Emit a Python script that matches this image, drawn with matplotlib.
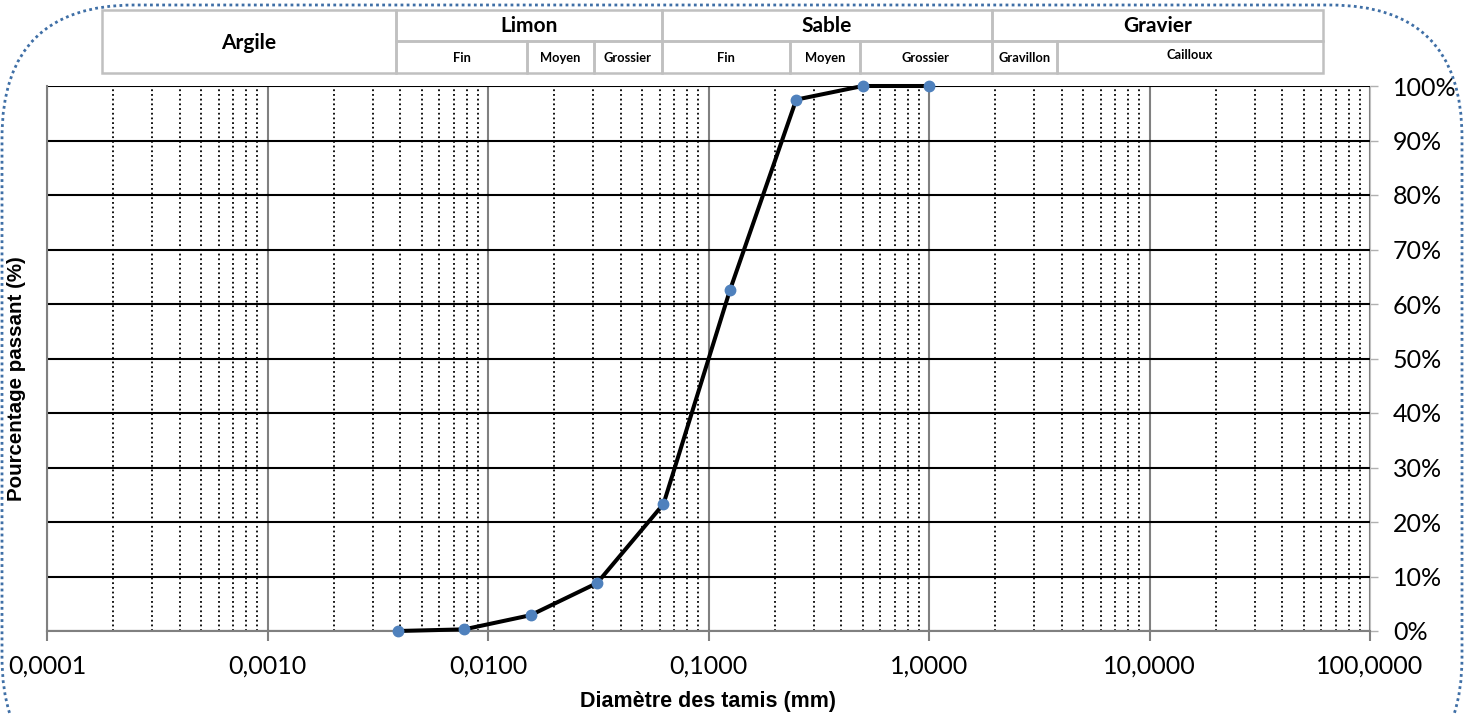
import numpy as np
import matplotlib
matplotlib.use('Agg')
import matplotlib.pyplot as plt
from matplotlib.patches import FancyBboxPatch, Rectangle
from matplotlib.ticker import FixedLocator, LogLocator, NullFormatter

# Sieve diameters (mm) and cumulative percentage passing
diametres = [0.0039, 0.0078, 0.0156, 0.03125, 0.0625, 0.125, 0.25, 0.5, 1.0]
passant = [0.0, 0.3, 2.9, 8.8, 23.3, 62.5, 97.5, 100.0, 100.0]

x_ticks = [0.0001, 0.001, 0.01, 0.1, 1, 10, 100]
x_labels = ['0,0001', '0,0010', '0,0100', '0,1000', '1,0000', '10,0000', '100,0000']
y_ticks = list(range(0, 101, 10))

# classification table: (label, left px, right px)
classes = [('Limon', 396, 662), ('Sable', 662, 992), ('Gravier', 992, 1323)]
sous_classes = [('Fin', 396, 527), ('Moyen', 527, 594), ('Grossier', 594, 662),
                ('Fin', 662, 790), ('Moyen', 790, 860), ('Grossier', 860, 992),
                ('Gravillon', 992, 1057), ('Cailloux', 1057, 1323)]

W, H = 1471, 715
fig = plt.figure(figsize=(W / 100, H / 100), dpi=100)
ax = fig.add_axes([47 / W, 1 - 631 / H, (1370 - 47) / W, (631 - 86) / H])

ax.set_xscale('log')
ax.set_xlim(0.0001, 100)
ax.set_ylim(0, 100)

# grid
ax.xaxis.set_major_locator(FixedLocator(x_ticks))
ax.xaxis.set_minor_locator(LogLocator(base=10, subs=np.arange(2, 10)))
ax.xaxis.set_minor_formatter(NullFormatter())
ax.set_xticklabels(x_labels)
ax.grid(which='major', axis='x', color='#808080', lw=1.5, ls='-')
ax.grid(which='minor', axis='x', color='black', lw=1.3, ls=(0, (1, 1.6)))
ax.set_yticks(y_ticks)
ax.set_yticklabels([f'{v}%' for v in y_ticks])
ax.grid(which='major', axis='y', color='black', lw=1.5)
ax.set_axisbelow(True)

ax.yaxis.tick_right()
ax.tick_params(axis='y', which='major', length=6, color='#b0b0b0', width=1,
               labelsize=18, pad=10.5)
ax.tick_params(axis='x', which='major', length=7, color='#808080', width=1.5,
               labelsize=18, pad=10)
ax.tick_params(axis='x', which='minor', length=0)
for lab in ax.get_xticklabels() + ax.get_yticklabels():
    lab.set_family('Lato')

for s in ['left', 'bottom']:
    ax.spines[s].set_color('#808080')
    ax.spines[s].set_linewidth(1.5)
ax.spines['top'].set_visible(False)
ax.spines['right'].set_color('#c0c0c0')
ax.spines['right'].set_linestyle((0, (1, 1)))

ax.plot(diametres, passant, color='black', lw=2.9, zorder=3, clip_on=False,
        marker='o', ms=7.5, mfc='#4f81bd', mec='#4f81bd')

ax.set_xlabel('Diamètre des tamis (mm)', family='Liberation Sans',
              fontweight='bold', fontsize=15.5, labelpad=10)
fig.text(17 / W, 1 - 379 / H, 'Pourcentage passant (%)', family='Liberation Sans',
         fontweight='bold', fontsize=14.8, rotation=90, ha='center', va='center')


def px_rect(x0, y0, x1, y1):
    return Rectangle((x0 / W, 1 - y1 / H), (x1 - x0) / W, (y1 - y0) / H,
                     transform=fig.transFigure, fill=False, ec='#c0c0c0', lw=1.8)


def px_text(x, y, s, size):
    fig.text(x / W, 1 - y / H, s, family='Lato', fontweight='bold',
             fontsize=size, ha='center', va='center')


top, mid, bot = 10, 41, 73
fig.add_artist(px_rect(102, top, 396, bot))
px_text(249, 43, 'Argile', 15)
for name, x0, x1 in classes:
    fig.add_artist(px_rect(x0, top, x1, mid))
    px_text((x0 + x1) / 2, 26, name, 15)
for name, x0, x1 in sous_classes:
    fig.add_artist(px_rect(x0, mid, x1, bot))
    yy = 55 if name == 'Cailloux' else 58
    px_text((x0 + x1) / 2, yy, name, 9.3)

# rounded dotted frame around the whole chart
frame = FancyBboxPatch((2 / W, 1 - 790 / H), 1460 / W, 785 / H,
                       boxstyle='round,pad=0,rounding_size=0.09',
                       transform=fig.transFigure, fill=False, ec='#3f6fa6',
                       lw=2.0, ls=(0, (1, 1.2)), mutation_aspect=W / H)
fig.add_artist(frame)

fig.savefig('out.png', dpi=100)
